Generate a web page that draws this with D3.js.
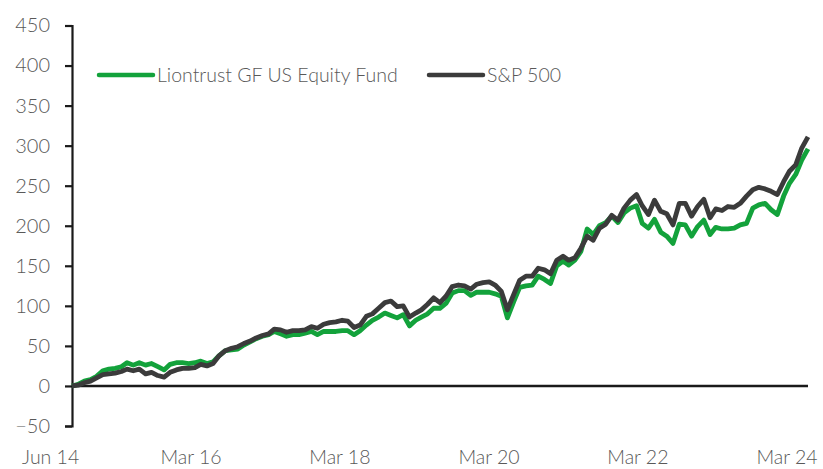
<!DOCTYPE html>
<meta charset="utf-8">
<style>
body { margin: 0; background: #fff; }
text { font-family: "Lato", "DejaVu Sans", sans-serif; font-weight: 300; fill: #595959; }
</style>
<body>
<script src="https://cdn.jsdelivr.net/npm/d3@7"></script>
<script>
// monthly index values, Jun 2014 .. Jun 2024 (cumulative % growth)
var fundValues = [0, 2, 6, 8, 12, 19, 21, 22, 24, 29, 26, 29, 26, 28, 24, 20, 27, 29, 29, 28,
  29, 31, 28, 30, 38, 44, 45, 46, 51, 55, 59, 62, 64, 68, 65, 62, 64, 64, 66, 68,
  64, 68, 68, 68, 69, 69, 64, 69, 76, 82, 86, 91, 88, 85, 89, 75, 82, 86, 90, 97,
  97, 103, 116, 119, 119, 113, 117, 117, 117, 115, 112, 85, 105, 123, 125, 126, 137, 133, 128, 150,
  156, 151, 157, 168, 196, 189, 200, 204, 212, 204, 216, 222, 225, 203, 197, 208, 192, 187, 178, 202,
  201, 187, 199, 207, 189, 198, 196, 196, 197, 201, 203, 222, 226, 228, 220, 214, 237, 253, 264, 282, 296];

var spxValues = [0, 1, 4, 6, 10, 14, 15, 16, 18, 21, 19, 21, 15, 17, 13, 11, 17, 20, 22, 22,
  23, 27, 25, 28, 38, 44, 47, 49, 53, 56, 60, 63, 65, 71, 70, 67, 69, 69, 70, 74,
  72, 77, 79, 80, 82, 81, 73, 76, 87, 90, 97, 104, 106, 99, 100, 86, 91, 95, 102, 110,
  104, 112, 124, 126, 125, 121, 127, 129, 130, 126, 118, 95, 114, 132, 137, 137, 147, 145, 140, 157,
  162, 157, 160, 172, 187, 182, 197, 202, 213, 207, 222, 232, 239, 225, 214, 232, 218, 215, 201, 228,
  228, 212, 224, 233, 210, 221, 219, 224, 223, 228, 237, 245, 248, 246, 243, 239, 255, 268, 276, 297, 311];

var seriesNames = ["Liontrust GF US Equity Fund", "S&P 500"];
var seriesColors = ["#13a23b", "#3b3b3b"];
var yTicks = [-50, 0, 50, 100, 150, 200, 250, 300, 350, 400, 450];
var xLabels = ["Jun 14", "Mar 16", "Mar 18", "Mar 20", "Mar 22", "Mar 24"];

var W = 823, H = 469;
var start = new Date(2014, 5, 1);
var dates = fundValues.map(function(d, i) { return d3.timeMonth.offset(start, i); });

var svg = d3.select("body").append("svg")
    .attr("width", W)
    .attr("height", H);

var x = d3.scaleTime()
    .domain([dates[0], dates[dates.length - 1]])
    .range([72, 808]);

var y = d3.scaleLinear()
    .domain([-50, 450])
    .range([426, 25.5]);

// where the category labels sit under the plot
var parseLab = d3.timeParse("%b %y");
var xLab = d3.scaleTime()
    .domain([parseLab("Mar 16"), parseLab("Mar 24")])
    .range([191, 787]);

// y axis
var yAxis = svg.append("g")
    .attr("transform", "translate(72,0)")
    .call(d3.axisLeft(y).tickValues(yTicks).tickSize(7).tickPadding(15));
yAxis.select(".domain").attr("stroke", "#1a1a1a").attr("stroke-width", 2.2);
yAxis.selectAll(".tick line").attr("stroke", "#1a1a1a").attr("stroke-width", 2.2);
yAxis.selectAll(".tick text")
    .style("font-size", "20px")
    .attr("fill", "#595959");

// zero line
svg.append("line")
    .attr("x1", x.range()[0]).attr("x2", x.range()[1])
    .attr("y1", y(0)).attr("y2", y(0))
    .attr("stroke", "#1a1a1a")
    .attr("stroke-width", 2.5);

// x labels
svg.append("g").selectAll("text")
    .data(xLabels)
  .enter().append("text")
    .attr("x", function(d, i) { return xLab(parseLab(d)) - (i === 0 ? 10 : 0); })
    .attr("y", 464)
    .attr("text-anchor", "middle")
    .style("font-size", "19.5px")
    .text(function(d) { return d; });

// lines
var line = d3.line()
    .x(function(d, i) { return x(dates[i]); })
    .y(function(d) { return y(d); });

[fundValues, spxValues].forEach(function(vals, k) {
  svg.append("path")
      .datum(vals)
      .attr("fill", "none")
      .attr("stroke", seriesColors[k])
      .attr("stroke-width", 4.8)
      .attr("stroke-linejoin", "round")
      .attr("d", line);
});

// legend
var legX = [99, 429];
var leg = svg.append("g").selectAll("g")
    .data(seriesNames)
  .enter().append("g")
    .attr("transform", function(d, i) { return "translate(" + legX[i] + ",75)"; });
leg.append("line")
    .attr("x1", 0).attr("x2", 54)
    .attr("stroke", function(d, i) { return seriesColors[i]; })
    .attr("stroke-width", 4.5)
    .attr("stroke-linecap", "round");
leg.append("text")
    .attr("x", 58)
    .attr("dy", "0.35em")
    .style("font-size", "19.5px")
    .text(function(d) { return d; });
</script>
</body>
